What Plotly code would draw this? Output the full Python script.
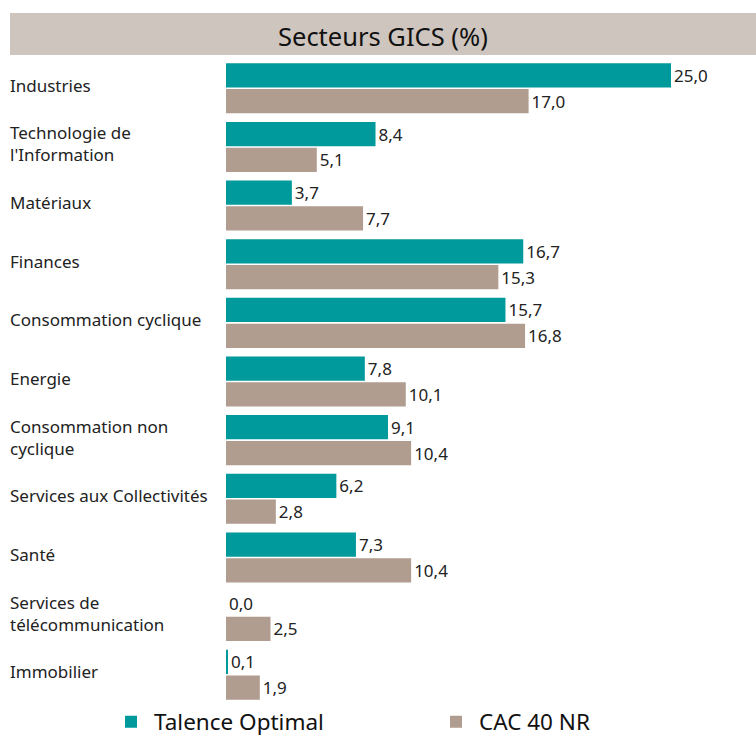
import plotly.graph_objects as go

categories = ["Industries", "Technologie de<br>l'Information", "Matériaux", "Finances",
              "Consommation cyclique", "Energie", "Consommation non<br>cyclique",
              "Services aux Collectivités", "Santé", "Services de<br>télécommunication", "Immobilier"]
fund_name = "Talence Optimal"
bench_name = "CAC 40 NR"
fund_values = [25.0, 8.4, 3.7, 16.7, 15.7, 7.8, 9.1, 6.2, 7.3, 0.0, 0.1]
bench_values = [17.0, 5.1, 7.7, 15.3, 16.8, 10.1, 10.4, 2.8, 10.4, 2.5, 1.9]
title_text = "Secteurs GICS (%)"

W, H = 756, 737
L, R, T, B = 226, 0, 59, 33
pw, ph = W - L - R, H - T - B

FONT = "Noto Sans"
fig = go.Figure()
fig.add_trace(go.Bar(y=categories, x=fund_values, orientation="h", name=fund_name,
                     marker=dict(color="#009A9C", line=dict(width=0)), legend="legend",
                     texttemplate="%{x:.1f}", textposition="outside", cliponaxis=False,
                     textfont=dict(size=17, color="#222222", family=FONT)))
fig.add_trace(go.Bar(y=categories, x=bench_values, orientation="h", name=bench_name,
                     marker=dict(color="#B19C90", line=dict(width=0)), legend="legend2",
                     texttemplate="%{x:.1f}", textposition="outside", cliponaxis=False,
                     textfont=dict(size=17, color="#222222", family=FONT)))

# title band
fig.add_shape(type="rect", xref="paper", yref="paper",
              x0=(10 - L) / pw, x1=1.0, y0=(H - B - 55) / ph, y1=(H - B - 13) / ph,
              fillcolor="#CFC5BF", line=dict(width=0), layer="below")
fig.add_annotation(xref="paper", yref="paper", x=((10 + 756) / 2 - L) / pw,
                   y=(H - B - 36) / ph, text=title_text, showarrow=False,
                   xanchor="center", yanchor="middle",
                   font=dict(size=25.5, color="#111111", family=FONT))

# left-aligned category labels
for c in categories:
    fig.add_annotation(xref="paper", yref="y", x=(8 - L) / pw, y=c, text=c,
                       showarrow=False, xanchor="left", yanchor="middle", align="left",
                       yshift=3,
                       font=dict(size=17, color="#222222", family=FONT))

leg_common = dict(orientation="h", xanchor="left", yanchor="middle", itemwidth=36,
                  font=dict(size=22.5, color="#111111", family=FONT), bgcolor="rgba(0,0,0,0)")
fig.update_layout(
    width=W, height=H, margin=dict(l=L, r=R, t=T, b=B, autoexpand=False),
    paper_bgcolor="white", plot_bgcolor="white",
    separators=",.",
    barmode="group", bargap=0.12, bargroupgap=0.06,
    font=dict(family=FONT, color="#222222"),
    xaxis=dict(range=[0, pw / 17.8], visible=False, fixedrange=True),
    yaxis=dict(autorange="reversed", showticklabels=False, showgrid=False,
               zeroline=False, showline=False, ticks=""),
    showlegend=True,
    legend=dict(x=(108 - L) / pw, y=(H - B - 722) / ph, **leg_common),
    legend2=dict(x=(433 - L) / pw, y=(H - B - 722) / ph, **leg_common),
)

fig.write_html("out.html", config={"displayModeBar": False},
               post_script="document.body.style.margin='0';document.body.style.overflow='hidden';")
